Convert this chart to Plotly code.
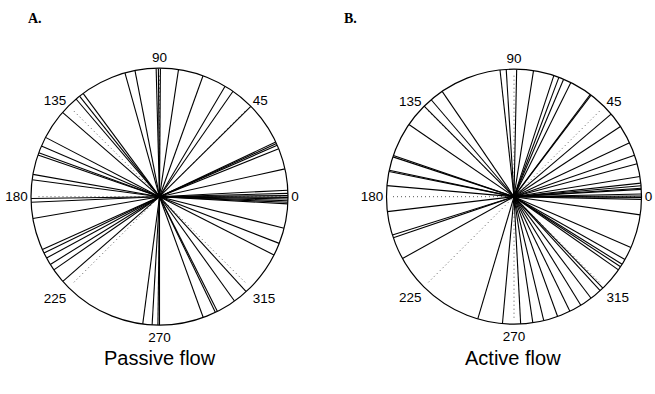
import plotly.graph_objects as go

# Flow directions (degrees)
passive_angles = [2.9, 1.5, 0.5, -0.3, -1.0, -1.8, -2.5, -3.2,
                  12.5, 21.9, 23.6, 24.4, 25.2, 44.7, 55.1, 59.3, 70.2, 81.5,
                  89.6, 90.5, 91.5, 101.0, 105.6, 126.5, 128.5, 130.5, 139.0,
                  152.5, 156.8, 160.0, 161.1, 170.0, 172.4, 180.8, 182.5, 189.8,
                  204.3, 206.0, 208.5, 211.8, 214.7, 221.2, 262.5, 266.7, 269.3,
                  270.0, 289.9, 295.8, 296.8, 305.7, 312.4, 333.0, 338.7, 345.8]

active_angles = [9.1, 6.1, 4.9, 3.8, 3.3, 1.2, 0.3, -0.3, -1.2,
                 15.0, 19.0, 25.0, 33.4, 40.4, 52.8, 53.3, 63.5, 67.1, 69.4,
                 71.8, 81.2, 88.8, 93.5, 96.3, 124.3, 130.5, 134.8, 145.5,
                 161.1, 161.8, 168.0, 168.6, 175.0, 186.7, 197.5, 198.8, 209.0,
                 253.5, 264.8, 273.0, 278.5, 283.5, 290.0, 296.0, 301.6, 307.2,
                 312.5, 314.2, 325.0, 326.7, 328.0, 330.5, 336.5, 351.8]

ref_angles = [0, 45, 90, 135, 180, 225, 270, 315]
tick_labels = ["0", "45", "90", "135", "180", "225", "270", "315"]
panel_titles = ["A.", "B."]
captions = ["Passive flow", "Active flow"]

W, H = 655, 394


def spokes(angles, r_end=1.0):
    r, th = [], []
    for a in angles:
        r += [0, r_end, None]
        th += [a, a, None]
    return r, th


fig = go.Figure()

for i, (angles, pname) in enumerate([(passive_angles, "polar"), (active_angles, "polar2")]):
    rr, tt = spokes(ref_angles, 0.96)
    fig.add_trace(go.Scatterpolar(r=rr, theta=tt, mode="lines", subplot=pname,
                                  line=dict(color="#555555", width=1, dash="1px,3px"),
                                  connectgaps=False, showlegend=False, hoverinfo="skip"))
    rr, tt = spokes(angles)
    fig.add_trace(go.Scatterpolar(r=rr, theta=tt, mode="lines", subplot=pname,
                                  line=dict(color="black", width=1.1),
                                  connectgaps=False, showlegend=False, hoverinfo="skip"))


def polar_layout(cx, cy, rad):
    return dict(
        domain=dict(x=[(cx - rad) / W, (cx + rad) / W],
                    y=[1 - (cy + rad) / H, 1 - (cy - rad) / H]),
        bgcolor="white",
        radialaxis=dict(visible=False, range=[0, 1]),
        angularaxis=dict(rotation=0, direction="counterclockwise",
                         tickmode="array", tickvals=ref_angles, ticktext=tick_labels,
                         showgrid=False, showline=True, linecolor="black", linewidth=1.2,
                         ticks="",
                         tickfont=dict(family="Liberation Sans, Arial", size=13.5, color="black")),
    )


fig.update_layout(
    width=W, height=H,
    margin=dict(l=0, r=0, t=0, b=0),
    paper_bgcolor="white", plot_bgcolor="white",
    polar=polar_layout(159.5, 196.7, 128.5),
    polar2=polar_layout(514, 196.7, 127.5),
    showlegend=False,
)

title_pos = [(26, 18), (342, 18)]
caption_pos = [(160, 358), (513, 358)]
for (tx, ty), t in zip(title_pos, panel_titles):
    fig.add_annotation(x=tx / W, y=1 - ty / H, xref="paper", yref="paper", text="<b>" + t + "</b>",
                       showarrow=False, xanchor="left", yanchor="middle",
                       font=dict(family="Liberation Sans, Arial", size=14, color="black")
                       if False else dict(family="Liberation Serif, Times New Roman", size=14, color="black"))
for (cx, cy), t in zip(caption_pos, captions):
    fig.add_annotation(x=cx / W, y=1 - cy / H, xref="paper", yref="paper", text=t,
                       showarrow=False, xanchor="center", yanchor="middle",
                       font=dict(family="Liberation Sans, Arial", size=20, color="black"))

fig.write_html("out.html")
